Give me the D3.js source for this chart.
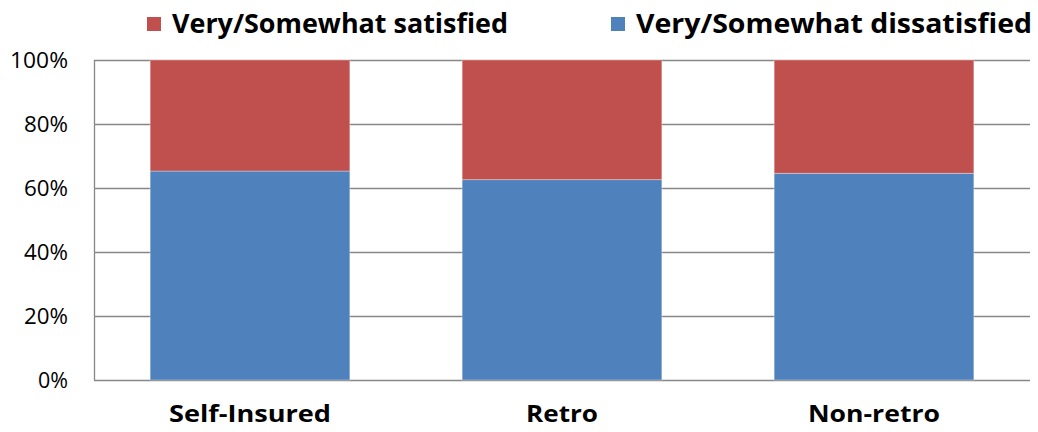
<!DOCTYPE html>
<html>
<head>
<meta charset="utf-8">
<script src="https://cdn.jsdelivr.net/npm/d3@7"></script>
<style>
  body { margin: 0; background: #fff; }
  text { font-family: "Open Sans", "Noto Sans", sans-serif; fill: #000; }
</style>
</head>
<body>
<div id="chart"></div>
<script>
// data
var categories = ["Self-Insured", "Retro", "Non-retro"];
var dissatisfied = [65.3, 62.6, 64.6];
var satisfied = [34.7, 37.4, 35.4];
var yTicks = [0, 20, 40, 60, 80, 100];
var seriesNames = ["Very/Somewhat satisfied", "Very/Somewhat dissatisfied"];

var W = 1038, H = 432;
var margin = { top: 60, right: 8, bottom: 52, left: 94 },
    width = W - margin.left - margin.right,
    height = H - margin.top - margin.bottom;

var color = d3.scaleOrdinal()
    .domain(["dissatisfied", "satisfied"])
    .range(["#4F81BD", "#C0504D"]);

var rows = categories.map(function (c, i) {
    return { cat: c, dissatisfied: dissatisfied[i], satisfied: satisfied[i] };
});
var stacked = d3.stack().keys(["dissatisfied", "satisfied"])(rows);

var x = d3.scaleBand().domain(categories).range([0, width]).paddingInner(0.36).paddingOuter(0.18);
var y = d3.scaleLinear().domain([0, 100]).range([height, 0]);

var svg = d3.select("#chart").append("svg")
    .attr("width", W)
    .attr("height", H);

var g = svg.append("g")
    .attr("transform", "translate(" + margin.left + "," + margin.top + ")");

// gridlines
g.append("g").selectAll("line")
    .data(yTicks)
    .enter().append("line")
    .attr("x1", 0).attr("x2", width)
    .attr("y1", function (d) { return Math.round(y(d)) + 0.5; })
    .attr("y2", function (d) { return Math.round(y(d)) + 0.5; })
    .attr("stroke", "#868686")
    .attr("stroke-width", 1.3);

g.append("line")
    .attr("x1", 0.5).attr("x2", 0.5)
    .attr("y1", 0).attr("y2", height)
    .attr("stroke", "#868686")
    .attr("stroke-width", 1.3);

// y labels
var yAxis = d3.axisLeft(y).tickValues(yTicks).tickSize(0).tickPadding(26)
    .tickFormat(function (d) { return d + "%"; });
var yg = g.append("g").call(yAxis);
yg.select(".domain").remove();
yg.selectAll("text")
    .style("font-size", "21px")
    .attr("dy", "0.35em")
    .attr("textLength", function (d) { return d === 100 ? 58 : (d === 0 ? 30 : 44); })
    .attr("lengthAdjust", "spacingAndGlyphs");

// bars
g.append("g").selectAll("g")
    .data(stacked)
    .enter().append("g")
    .attr("fill", function (d) { return color(d.key); })
    .selectAll("rect")
    .data(function (d) { return d; })
    .enter().append("rect")
    .attr("x", function (d) { return x(d.data.cat); })
    .attr("width", x.bandwidth())
    .attr("y", function (d) { return y(d[1]); })
    .attr("height", function (d) { return y(d[0]) - y(d[1]); })
    .attr("stroke", "rgba(255,255,255,0.4)")
    .attr("stroke-width", 0.8);

// x labels
var xAxis = d3.axisBottom(x).tickSize(0).tickPadding(26);
var xg = g.append("g").attr("transform", "translate(0," + height + ")").call(xAxis);
xg.select(".domain").remove();
xg.selectAll("text")
    .style("font-size", "23px")
    .style("font-weight", "bold")
    .attr("textLength", function (d) { return { "Self-Insured": 162, "Retro": 72, "Non-retro": 132 }[d]; })
    .attr("lengthAdjust", "spacingAndGlyphs");

// legend
var legendItems = [
    { name: seriesNames[0], key: "satisfied", x: 147, len: 336 },
    { name: seriesNames[1], key: "dissatisfied", x: 611, len: 396 }
];
var legend = svg.selectAll(".legend")
    .data(legendItems)
    .enter().append("g")
    .attr("class", "legend")
    .attr("transform", function (d) { return "translate(" + d.x + ",17)"; });

legend.append("rect")
    .attr("width", 14)
    .attr("height", 14)
    .attr("fill", function (d) { return color(d.key); });

legend.append("text")
    .attr("x", 25)
    .attr("y", 7)
    .attr("dy", "0.35em")
    .style("font-size", "26px")
    .style("font-weight", "bold")
    .attr("textLength", function (d) { return d.len; })
    .attr("lengthAdjust", "spacingAndGlyphs")
    .text(function (d) { return d.name; });
</script>
</body>
</html>
